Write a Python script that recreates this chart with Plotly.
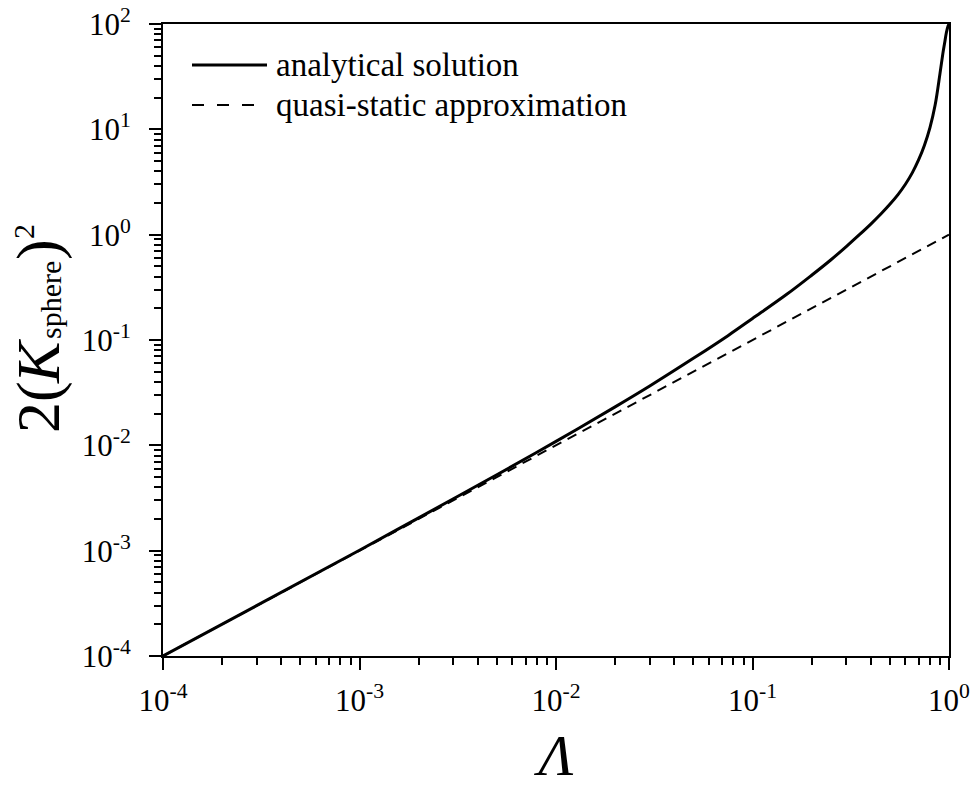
import plotly.graph_objects as go

# Data
lam = [1e-4, 1e-3, 2e-3, 5e-3, 0.01, 0.02, 0.03, 0.05, 0.075, 0.1, 0.15,
       0.2, 0.25, 0.3, 0.35, 0.4, 0.45, 0.5, 0.55, 0.6, 0.65, 0.7, 0.75, 0.8,
       0.85, 0.9, 0.93, 0.95, 0.97, 0.99, 1.0]
analytical = [1.0e-4, 1.01e-3, 2.05e-3, 5.25e-3, 0.0109, 0.0232, 0.0366, 0.067,
              0.110, 0.160, 0.273, 0.412, 0.575, 0.771, 0.999, 1.26, 1.57,
              1.94, 2.40, 3.01, 3.86, 5.12, 7.08, 10.4, 17.0, 34.0, 52.0, 66.0,
              83.0, 96.0, 100.0]
lam_qs = [1e-4, 1.0]
quasi_static = [1e-4, 1.0]

x_tickvals = [1e-4, 1e-3, 1e-2, 1e-1, 1e0]
x_ticktext = ["10<sup>-4</sup>", "10<sup>-3</sup>", "10<sup>-2</sup>", "10<sup>-1</sup>", "10<sup>0</sup>"]
y_tickvals = [1e-4, 1e-3, 1e-2, 1e-1, 1e0, 1e1, 1e2]
y_ticktext = ["10<sup>-4</sup>", "10<sup>-3</sup>", "10<sup>-2</sup>", "10<sup>-1</sup>",
              "10<sup>0</sup>", "10<sup>1</sup>", "10<sup>2</sup>"]
series_names = ["analytical solution", "quasi-static approximation"]
x_title = "<i>Λ</i>"
# y-axis title "2(K_sphere)^2" split into parts: (text, size, centre-x px, centre-y px)
y_title_parts = [("2(", 62, 38, 407), ("<i>K</i>", 62, 38, 361), ("sphere", 30, 50, 300),
                 (")", 62, 38, 250), ("2", 30, 23, 232)]

FONT = "Liberation Serif, Times New Roman, serif"

x_minor = [k * 10.0 ** e for e in range(-4, 0) for k in range(2, 10)]
y_minor = [k * 10.0 ** e for e in range(-4, 2) for k in range(2, 10)]

fig = go.Figure()
fig.add_trace(go.Scatter(x=lam, y=analytical, mode="lines", name=series_names[0],
                         line=dict(color="black", width=3, shape="spline", smoothing=1.0),
                         showlegend=False))
fig.add_trace(go.Scatter(x=lam_qs, y=quasi_static, mode="lines", name=series_names[1],
                         line=dict(color="black", width=2, dash="10px,7px"),
                         showlegend=False))

axis_common = dict(
    type="log", showline=True, linecolor="black", linewidth=2, mirror=True,
    ticks="outside", ticklen=12, tickwidth=2, tickcolor="black",
    showgrid=False, zeroline=False, automargin=False,
    tickfont=dict(family=FONT, size=31, color="black"),
)

fig.update_xaxes(**axis_common, range=[-4, 0], tickmode="array",
                 tickvals=x_tickvals, ticktext=x_ticktext, ticklabelstandoff=4,
                 minor=dict(tickvals=x_minor, ticks="outside", ticklen=7, tickwidth=1.5, tickcolor="black"),
                 title=dict(text=x_title, font=dict(family=FONT, size=58, color="black"), standoff=40))
fig.update_yaxes(**axis_common, range=[-4, 2], tickmode="array",
                 tickvals=y_tickvals, ticktext=y_ticktext, ticklabelstandoff=12,
                 minor=dict(tickvals=y_minor, ticks="outside", ticklen=7, tickwidth=1.5, tickcolor="black"))


def px_x(p):
    return (p - 163) / 786.0


def px_y(p):
    return (656 - p) / 632.0


# y-axis title, rotated, built from its parts
for txt, size, cx, cy in y_title_parts:
    fig.add_annotation(xref="paper", yref="paper", x=px_x(cx), y=px_y(cy),
                       text=txt, textangle=-90, showarrow=False,
                       xanchor="center", yanchor="middle",
                       font=dict(family=FONT, size=size, color="black"))

# Custom legend (line samples + labels)
fig.add_shape(type="line", xref="paper", yref="paper", x0=px_x(192), x1=px_x(267),
              y0=px_y(65), y1=px_y(65), line=dict(color="black", width=3))
fig.add_shape(type="line", xref="paper", yref="paper", x0=px_x(192), x1=px_x(254),
              y0=px_y(105), y1=px_y(105), line=dict(color="black", width=2, dash="12px,13px"))
fig.add_annotation(xref="paper", yref="paper", x=px_x(274), y=px_y(65), text=series_names[0],
                   showarrow=False, xanchor="left", yanchor="middle",
                   font=dict(family=FONT, size=33, color="black"))
fig.add_annotation(xref="paper", yref="paper", x=px_x(274), y=px_y(105), text=series_names[1],
                   showarrow=False, xanchor="left", yanchor="middle",
                   font=dict(family=FONT, size=33, color="black"))

fig.update_layout(
    width=974, height=788,
    margin=dict(l=163, r=25, t=24, b=132),
    paper_bgcolor="white", plot_bgcolor="white",
    showlegend=False,
)

fig.write_html("out.html")
